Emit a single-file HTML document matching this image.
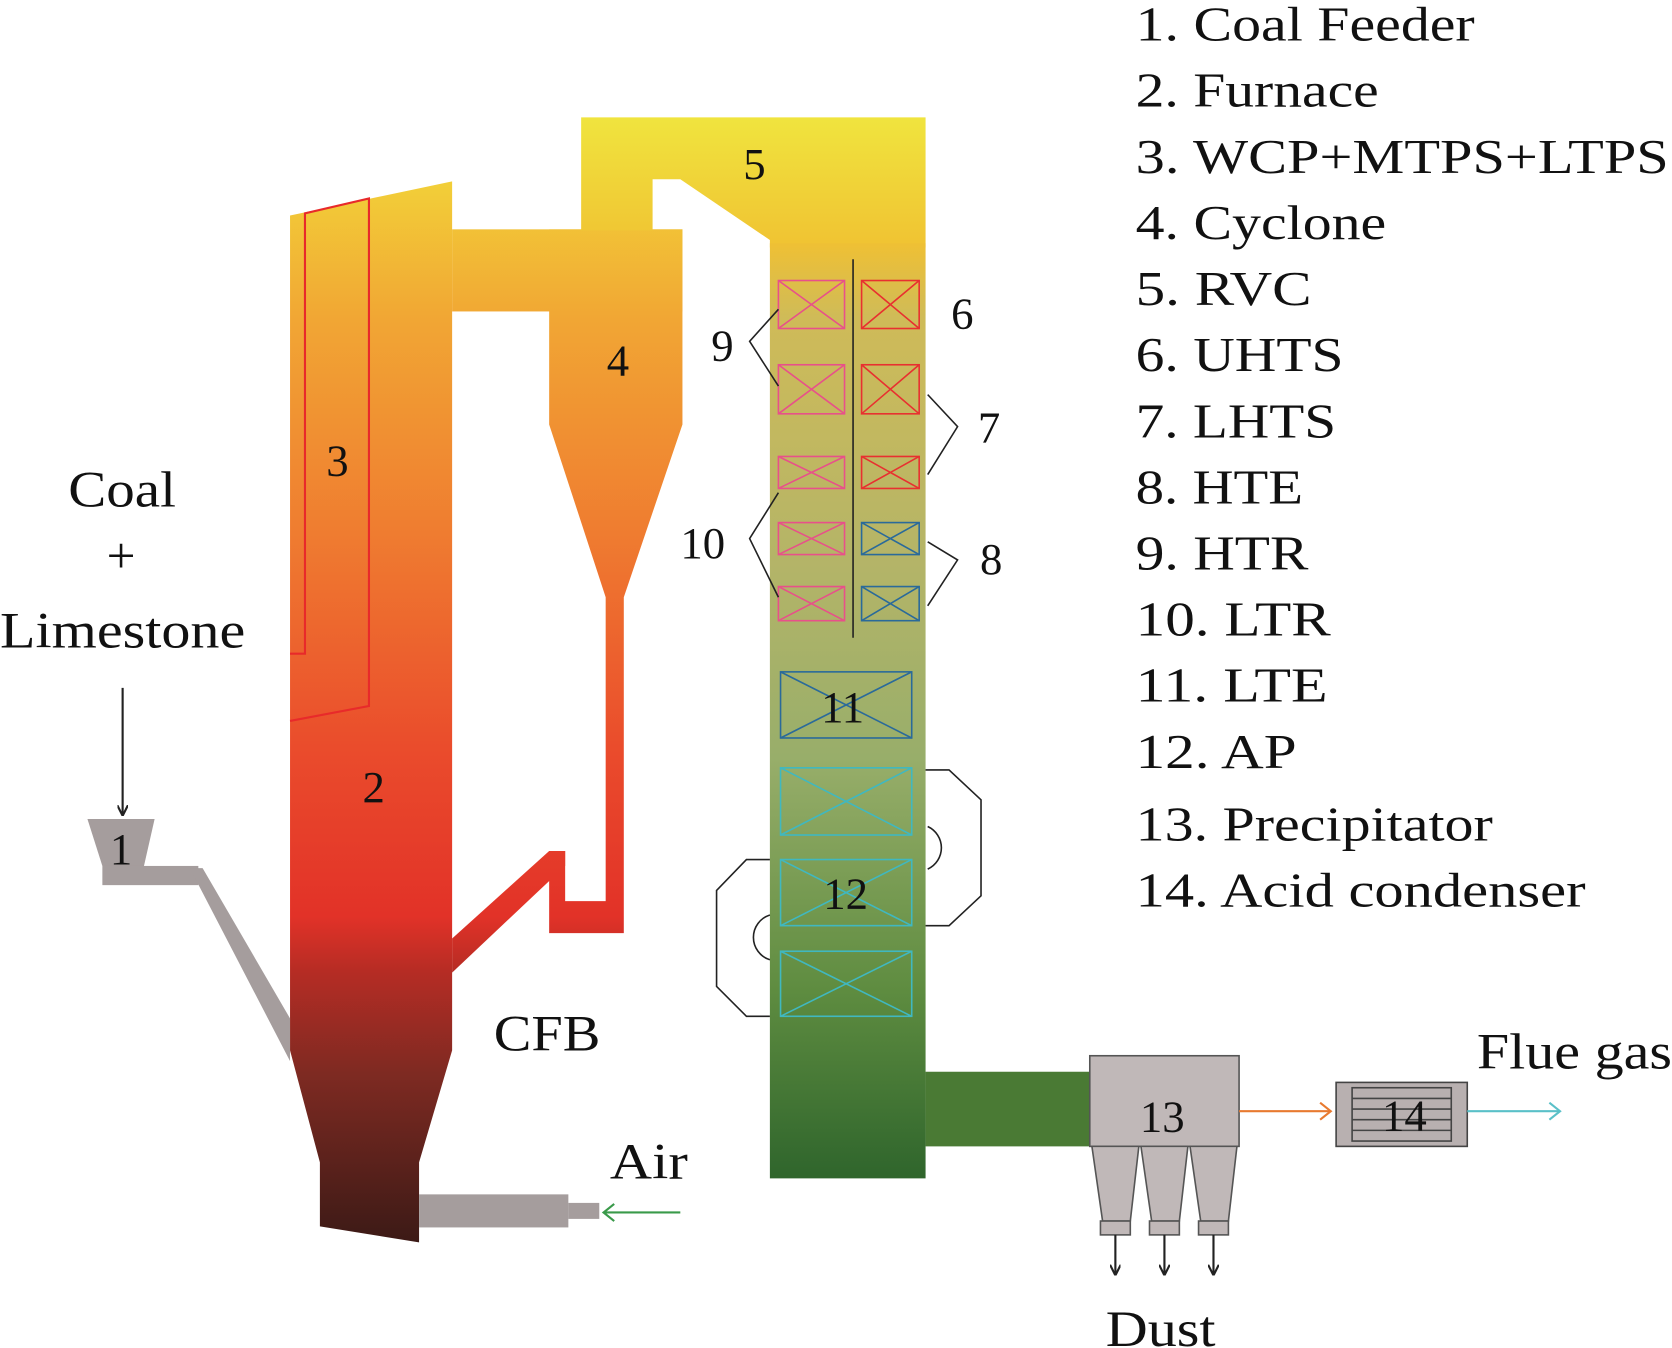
<!DOCTYPE html>
<html><head><meta charset="utf-8">
<style>html,body{margin:0;padding:0;background:#fff}svg{display:block}</style></head>
<body>
<svg width="1672" height="1348" viewBox="0 0 1568 1264" xmlns="http://www.w3.org/2000/svg" font-family="Liberation Serif, serif">
<defs>
<linearGradient id="hot" gradientUnits="userSpaceOnUse" x1="0" y1="110" x2="0" y2="1165">
<stop offset="0" stop-color="#f2e23a"/>
<stop offset="0.18" stop-color="#f1a634"/>
<stop offset="0.37" stop-color="#ef7c30"/>
<stop offset="0.56" stop-color="#ea4c2c"/>
<stop offset="0.71" stop-color="#e23228"/>
<stop offset="0.76" stop-color="#b52c24"/>
<stop offset="0.85" stop-color="#7e2a22"/>
<stop offset="1" stop-color="#3c1a16"/>
</linearGradient>
<linearGradient id="rvc" gradientUnits="userSpaceOnUse" x1="0" y1="110" x2="0" y2="235">
<stop offset="0" stop-color="#f0e43e"/>
<stop offset="1" stop-color="#f0c232"/>
</linearGradient>
<linearGradient id="green" gradientUnits="userSpaceOnUse" x1="0" y1="228" x2="0" y2="1105">
<stop offset="0" stop-color="#efc034"/>
<stop offset="0.08" stop-color="#cfbb58"/>
<stop offset="0.35" stop-color="#b3b468"/>
<stop offset="0.55" stop-color="#98ae6a"/>
<stop offset="0.8" stop-color="#5e8c40"/>
<stop offset="1" stop-color="#2f652c"/>
</linearGradient>
<marker id="ak" markerWidth="10" markerHeight="10" refX="9" refY="5" orient="auto" markerUnits="userSpaceOnUse"><path d="M0,0 L10,5 L0,10" fill="none" stroke="#222" stroke-width="2"/></marker>
</defs>

<polygon points="272,202 424,170 424,985 393,1090 393,1165 300,1150 300,1090 272,985" fill="url(#hot)"/>
<rect x="424" y="215" width="216" height="77" fill="url(#hot)"/>
<polygon points="515,215 640,215 640,398 585,560 585,875 515,875 515,798 530,798 530,845 568,845 568,560 515,398" fill="url(#hot)"/>
<polygon points="424,880 515,798 530,798 530,812 424,912" fill="url(#hot)"/>
<polygon points="545,110 868,110 868,232 722,232 722,225 638,168 612,168 612,216 545,216" fill="url(#rvc)"/>
<rect x="722" y="228" width="146" height="877" fill="url(#green)"/>
<rect x="868" y="1005" width="156" height="70" fill="#4a7a34"/>

<polyline points="272,613 286,613 286,200 346,186 346,662 272,676" fill="none" stroke="#e82a2a" stroke-width="2"/>

<polygon points="82,768 145,768 135,812 96,812" fill="#a59d9d"/>
<rect x="96" y="812" width="90" height="18" fill="#a59d9d"/>
<polygon points="178,814 190,814 272,955 272,995" fill="#a59d9d"/>
<line x1="115" y1="645" x2="115" y2="764" stroke="#222" stroke-width="2" marker-end="url(#ak)"/>

<rect x="393" y="1120" width="140" height="31" fill="#a59d9d"/>
<rect x="533" y="1128" width="29" height="15" fill="#a59d9d"/>
<line x1="638" y1="1137" x2="566" y2="1137" stroke="#3a9a4a" stroke-width="2"/>
<path d="M576,1129 L566,1137 L576,1145" fill="none" stroke="#3a9a4a" stroke-width="2"/>

<g fill="none" stroke-width="1.5">
<g stroke="#e8508a">
<rect x="730" y="263" width="62" height="45"/><path d="M730,263L792,308M792,263L730,308"/>
<rect x="730" y="342" width="62" height="46"/><path d="M730,342L792,388M792,342L730,388"/>
<rect x="730" y="428" width="62" height="30"/><path d="M730,428L792,458M792,428L730,458"/>
<rect x="730" y="490" width="62" height="30"/><path d="M730,490L792,520M792,490L730,520"/>
<rect x="730" y="550" width="62" height="32"/><path d="M730,550L792,582M792,550L730,582"/>
</g>
<g stroke="#e83030">
<rect x="808" y="263" width="54" height="45"/><path d="M808,263L862,308M862,263L808,308"/>
<rect x="808" y="342" width="54" height="46"/><path d="M808,342L862,388M862,342L808,388"/>
<rect x="808" y="428" width="54" height="30"/><path d="M808,428L862,458M862,428L808,458"/>
</g>
<g stroke="#2a6a9a">
<rect x="808" y="490" width="54" height="30"/><path d="M808,490L862,520M862,490L808,520"/>
<rect x="808" y="550" width="54" height="32"/><path d="M808,550L862,582M862,550L808,582"/>
<rect x="732" y="630" width="123" height="62"/><path d="M732,630L855,692M855,630L732,692"/>
</g>
<g stroke="#40b8c0">
<rect x="732" y="720" width="123" height="63"/><path d="M732,720L855,783M855,720L732,783"/>
<rect x="732" y="806" width="123" height="62"/><path d="M732,806L855,868M855,806L732,868"/>
<rect x="732" y="892" width="123" height="61"/><path d="M732,892L855,953M855,892L732,953"/>
</g>
<g stroke="#222">
<line x1="800" y1="243" x2="800" y2="598"/>
<polyline points="730,290 703,320 730,362"/>
<polyline points="730,462 703,505 730,560"/>
<polyline points="870,370 898,400 870,445"/>
<polyline points="870,508 898,525 870,568"/>
<polyline points="868,722 890,722 920,750 920,840 890,868 868,868"/>
<path d="M870,775 A22,22 0 0 1 870,815"/>
<polyline points="722,806 700,806 672,835 672,925 700,953 722,953"/>
<path d="M722,858 A22,22 0 0 0 722,900"/>
</g>
</g>

<g fill="#c0b8b8" stroke="#555" stroke-width="1.5">
<rect x="1022" y="990" width="140" height="85"/>
<polygon points="1024,1075 1068,1075 1060,1145 1034,1145"/>
<polygon points="1070,1075 1114,1075 1106,1145 1080,1145"/>
<polygon points="1116,1075 1160,1075 1152,1145 1126,1145"/>
<rect x="1032" y="1145" width="28" height="13"/>
<rect x="1078" y="1145" width="28" height="13"/>
<rect x="1124" y="1145" width="28" height="13"/>
</g>
<g stroke="#222" stroke-width="2">
<line x1="1046" y1="1158" x2="1046" y2="1195" marker-end="url(#ak)"/>
<line x1="1092" y1="1158" x2="1092" y2="1195" marker-end="url(#ak)"/>
<line x1="1138" y1="1158" x2="1138" y2="1195" marker-end="url(#ak)"/>
</g>
<line x1="1162" y1="1042" x2="1248" y2="1042" stroke="#e87a30" stroke-width="2"/>
<path d="M1238,1034 L1248,1042 L1238,1050" fill="none" stroke="#e87a30" stroke-width="2"/>
<g fill="#b8b0b0" stroke="#444" stroke-width="1.5">
<rect x="1253" y="1015" width="123" height="60"/>
<rect x="1268" y="1020" width="93" height="50" fill="none"/>
<path d="M1268,1030H1361M1268,1040H1361M1268,1050H1361M1268,1060H1361" fill="none"/>
</g>
<line x1="1376" y1="1042" x2="1463" y2="1042" stroke="#5ac0c8" stroke-width="2"/>
<path d="M1453,1034 L1463,1042 L1453,1050" fill="none" stroke="#5ac0c8" stroke-width="2"/>

<g font-size="42" fill="#111">
<text x="103" y="810">1</text>
<text x="340" y="752">2</text>
<text x="306" y="446">3</text>
<text x="569" y="352">4</text>
<text x="697" y="168">5</text>
<text x="892" y="308">6</text>
<text x="917" y="415">7</text>
<text x="919" y="538">8</text>
<text x="667" y="338">9</text>
<text x="638" y="523">10</text>
<text x="770" y="677">11</text>
<text x="772" y="852">12</text>
<text x="1069" y="1061">13</text>
<text x="1296" y="1060">14</text>
</g>
<g font-size="48" fill="#111" lengthAdjust="spacingAndGlyphs">
<text x="64" y="475" textLength="101" lengthAdjust="spacingAndGlyphs">Coal</text>
<text x="100" y="537">+</text>
<text x="0" y="607" textLength="230" lengthAdjust="spacingAndGlyphs">Limestone</text>
<text x="463" y="985" textLength="100" lengthAdjust="spacingAndGlyphs">CFB</text>
<text x="572" y="1105" textLength="73" lengthAdjust="spacingAndGlyphs">Air</text>
<text x="1037" y="1262" textLength="103" lengthAdjust="spacingAndGlyphs">Dust</text>
<text x="1385" y="1002" textLength="183" lengthAdjust="spacingAndGlyphs">Flue gas</text>
</g>
<g font-size="46" fill="#111">
<text x="1065" y="38" textLength="318" lengthAdjust="spacingAndGlyphs">1. Coal Feeder</text>
<text x="1065" y="100" textLength="228" lengthAdjust="spacingAndGlyphs">2. Furnace</text>
<text x="1065" y="162" textLength="500" lengthAdjust="spacingAndGlyphs">3. WCP+MTPS+LTPS</text>
<text x="1065" y="224" textLength="235" lengthAdjust="spacingAndGlyphs">4. Cyclone</text>
<text x="1065" y="286" textLength="165" lengthAdjust="spacingAndGlyphs">5. RVC</text>
<text x="1065" y="348" textLength="195" lengthAdjust="spacingAndGlyphs">6. UHTS</text>
<text x="1065" y="410" textLength="188" lengthAdjust="spacingAndGlyphs">7. LHTS</text>
<text x="1065" y="472" textLength="157" lengthAdjust="spacingAndGlyphs">8. HTE</text>
<text x="1065" y="534" textLength="162" lengthAdjust="spacingAndGlyphs">9. HTR</text>
<text x="1065" y="596" textLength="183" lengthAdjust="spacingAndGlyphs">10. LTR</text>
<text x="1065" y="658" textLength="180" lengthAdjust="spacingAndGlyphs">11. LTE</text>
<text x="1065" y="720" textLength="151" lengthAdjust="spacingAndGlyphs">12. AP</text>
<text x="1065" y="788" textLength="335" lengthAdjust="spacingAndGlyphs">13. Precipitator</text>
<text x="1065" y="850" textLength="422" lengthAdjust="spacingAndGlyphs">14. Acid condenser</text>
</g>
</svg>
</body></html>
